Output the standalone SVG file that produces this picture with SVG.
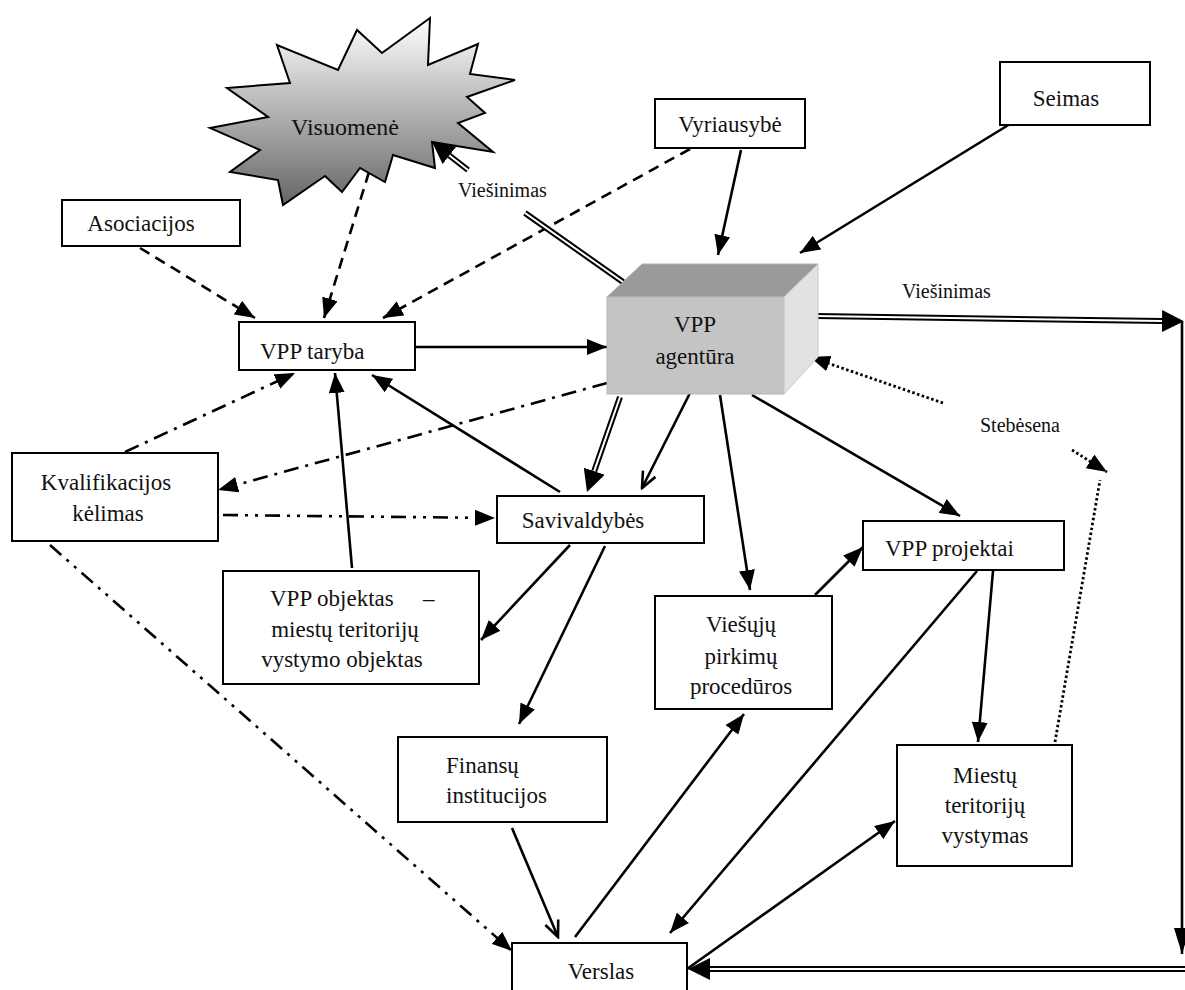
<svg xmlns="http://www.w3.org/2000/svg" width="1185" height="990" viewBox="0 0 1185 990">
<style>
.box{fill:#fff;stroke:#000;stroke-width:2}
.t{font-family:'Liberation Serif',serif;font-size:23px;fill:#111}
.c{text-anchor:middle}
.lbl{font-size:20px}
.ln{fill:none;stroke:#000;stroke-width:2.6}
.dash{stroke-dasharray:11,7}
.dd{stroke-dasharray:15,7,3,7}
.ddd{stroke-dasharray:15,7,3,7,3,7}
.dot{stroke-dasharray:2.5,2.5;stroke-width:2.8}
.dbo{fill:none;stroke:#000;stroke-width:6}
.dbi{fill:none;stroke:#fff;stroke-width:2}
</style>
<defs>
<linearGradient id="g" x1="0" y1="0" x2="0" y2="1"><stop offset="0" stop-color="#ffffff"/><stop offset="1" stop-color="#666666"/></linearGradient>
<marker id="a" markerUnits="userSpaceOnUse" markerWidth="20" markerHeight="16" refX="20" refY="8" orient="auto"><path d="M0,0 L20,8 L0,16 z" fill="#000"/></marker>
<marker id="o" markerUnits="userSpaceOnUse" markerWidth="20" markerHeight="18" refX="18" refY="9" orient="auto"><path d="M2,2 L18,9 L2,16" fill="none" stroke="#000" stroke-width="2.6"/></marker>
<marker id="b" markerUnits="userSpaceOnUse" markerWidth="22" markerHeight="22" refX="0" refY="11" orient="auto"><path d="M0,0 L22,11 L0,22 z" fill="#000"/></marker>
<marker id="n" markerUnits="userSpaceOnUse" markerWidth="26" markerHeight="16" refX="26" refY="8" orient="auto"><path d="M0,0 L26,8 L0,16 z" fill="#000"/></marker>
</defs>
<rect width="1185" height="990" fill="#fff"/>

<g id="connectors">
  <path class="ln dash" d="M369,172 L324,318" marker-end="url(#a)"/>
  <path class="ln dash" d="M140,248 L255,318" marker-end="url(#a)"/>
  <path class="ln dash" d="M690,149 L383,318" marker-end="url(#a)"/>
  <path class="ln" d="M741,150 L718,255" marker-end="url(#a)"/>
  <path class="ln" d="M1010,124 L800,253" marker-end="url(#a)"/>
  <path class="ln" d="M415,347 L607,347" marker-end="url(#a)"/>
  <path class="dbo" d="M623,282 L525,213"/>
  <path class="dbi" d="M623,282 L525,213"/>
  <path class="dbo" d="M468,170 L449.4,155.5" marker-end="url(#b)"/>
  <path class="dbi" d="M468,170 L449.4,155.5"/>
  <path class="dbo" d="M816,316 L1162,321" marker-end="url(#b)"/>
  <path class="dbi" d="M816,316 L1162,321"/>
  <path class="ln" d="M1182,322 L1182,954" marker-end="url(#n)"/>
  <path class="dbo" d="M1186,969 L710,969" marker-end="url(#b)"/>
  <path class="dbi" d="M1186,969 L710,969"/>
  <path class="dbo" d="M620,397 L594.2,471.2" marker-end="url(#b)"/>
  <path class="dbi" d="M620,397 L594.2,471.2"/>
  <path class="ln" d="M690,393 L642,488" marker-end="url(#o)"/>
  <path class="ln" d="M720,395 L750,590" marker-end="url(#a)"/>
  <path class="ln" d="M752,395 L960,516" marker-end="url(#a)"/>
  <path class="ln dot" d="M943,403 L810,357" marker-end="url(#a)"/>
  <path class="ln dot" d="M1072,450 L1107,472" marker-end="url(#a)"/>
  <path class="ln dot" d="M1055,742 L1100,480"/>
  <path class="ln dd" d="M125,452 L295,373" marker-end="url(#a)"/>
  <path class="ln dd" d="M607,383 L218,490" marker-end="url(#a)"/>
  <path class="ln ddd" d="M223,515 L495,518" marker-end="url(#a)"/>
  <path class="ln ddd" d="M50,545 L512,951" marker-end="url(#a)"/>
  <path class="ln" d="M352,568 L335,373" marker-end="url(#a)"/>
  <path class="ln" d="M560,492 L372,375" marker-end="url(#a)"/>
  <path class="ln" d="M570,545 L481,640" marker-end="url(#a)"/>
  <path class="ln" d="M605,546 L519,724" marker-end="url(#a)"/>
  <path class="ln" d="M512,828 L558,937" marker-end="url(#o)"/>
  <path class="ln" d="M575,937 L744,714" marker-end="url(#a)"/>
  <path class="ln" d="M815,595 L863,547" marker-end="url(#a)"/>
  <path class="ln" d="M977,571 L670,933" marker-end="url(#a)"/>
  <path class="ln" d="M993,571 L978,742" marker-end="url(#a)"/>
  <path class="ln" d="M687,969 L895,821" marker-end="url(#a)"/>
</g>

<g id="visuomene">
  <polygon points="210,128 268,117 227,88 290,83 277,45 338,70 357,30 382,53 430,18 428,65 478,44 470,74 515,80 467,97 485,113 458,123 493,152 432,142 435,168 393,155 385,182 360,168 342,192 325,176 283,205 278,180 230,172 260,150" fill="url(#g)" stroke="#000" stroke-width="2"/>
  <text class="t c" font-family="Liberation Serif" x="345" y="135" font-size="24" style="font-size:24px">Visuomenė</text>
</g>

<g id="asociacijos">
  <rect class="box" x="62" y="200" width="178" height="46"/>
  <text class="t c" font-family="Liberation Serif" x="141" y="231">Asociacijos</text>
</g>

<g id="vyriausybe">
  <rect class="box" x="655" y="99" width="150" height="49"/>
  <text class="t c" font-family="Liberation Serif" x="730" y="132">Vyriausybė</text>
</g>

<g id="seimas">
  <rect class="box" x="1000" y="62" width="150" height="63"/>
  <text class="t c" font-family="Liberation Serif" x="1066" y="106">Seimas</text>
</g>

<g id="vpp-taryba">
  <rect class="box" x="239" y="322" width="176" height="48"/>
  <text class="t" font-family="Liberation Serif" x="260" y="359">VPP taryba</text>
</g>

<g id="vpp-agentura">
  <polygon points="607,297 642,264 818,264 784,297" fill="#9a9a9a" stroke="#b0b0b0" stroke-width="1"/>
  <rect x="607" y="297" width="177" height="97" fill="#c4c4c4" stroke="#b5b5b5" stroke-width="1"/>
  <polygon points="784,297 818,264 818,357 784,394" fill="#e2e2e2" stroke="#c8c8c8" stroke-width="1"/>
  <text class="t c" font-family="Liberation Serif" x="695" y="332">VPP</text>
  <text class="t c" font-family="Liberation Serif" x="695" y="364">agentūra</text>
</g>

<g id="kvalifikacijos">
  <rect class="box" x="12" y="453" width="206" height="88"/>
  <text class="t c" font-family="Liberation Serif" x="106" y="490">Kvalifikacijos</text>
  <text class="t c" font-family="Liberation Serif" x="108" y="521">kėlimas</text>
</g>

<g id="savivaldybes">
  <rect class="box" x="497" y="496" width="207" height="47"/>
  <text class="t c" font-family="Liberation Serif" x="583" y="528">Savivaldybės</text>
</g>

<g id="vpp-objektas">
  <rect class="box" x="223" y="571" width="256" height="113"/>
  <text class="t" font-family="Liberation Serif"><tspan x="270" y="606">VPP objektas</tspan><tspan x="423" y="606">–</tspan></text>
  <text class="t c" font-family="Liberation Serif" x="345" y="637">miestų teritorijų</text>
  <text class="t c" font-family="Liberation Serif" x="342" y="667">vystymo objektas</text>
</g>

<g id="viesuju-pirkimu">
  <rect class="box" x="655" y="596" width="177" height="113"/>
  <text class="t c" font-family="Liberation Serif" x="741" y="632">Viešųjų</text>
  <text class="t c" font-family="Liberation Serif" x="741" y="664">pirkimų</text>
  <text class="t c" font-family="Liberation Serif" x="741" y="694">procedūros</text>
</g>

<g id="vpp-projektai">
  <rect class="box" x="863" y="521" width="201" height="49"/>
  <text class="t" font-family="Liberation Serif" x="885" y="556">VPP projektai</text>
</g>

<g id="finansu">
  <rect class="box" x="398" y="737" width="209" height="85"/>
  <text class="t" font-family="Liberation Serif" x="446" y="773">Finansų</text>
  <text class="t" font-family="Liberation Serif" x="446" y="803">institucijos</text>
</g>

<g id="miestu">
  <rect class="box" x="897" y="745" width="175" height="121"/>
  <text class="t c" font-family="Liberation Serif" x="985" y="783">Miestų</text>
  <text class="t c" font-family="Liberation Serif" x="985" y="813">teritorijų</text>
  <text class="t c" font-family="Liberation Serif" x="985" y="843">vystymas</text>
</g>

<g id="verslas">
  <rect class="box" x="512" y="943" width="175" height="55"/>
  <text class="t c" font-family="Liberation Serif" x="601" y="979">Verslas</text>
</g>

<g id="labels">
  <text class="t lbl" font-family="Liberation Serif" x="458" y="197">Viešinimas</text>
  <text class="t lbl" font-family="Liberation Serif" x="902" y="298">Viešinimas</text>
  <text class="t lbl" font-family="Liberation Serif" x="980" y="432">Stebėsena</text>
</g>
</svg>
